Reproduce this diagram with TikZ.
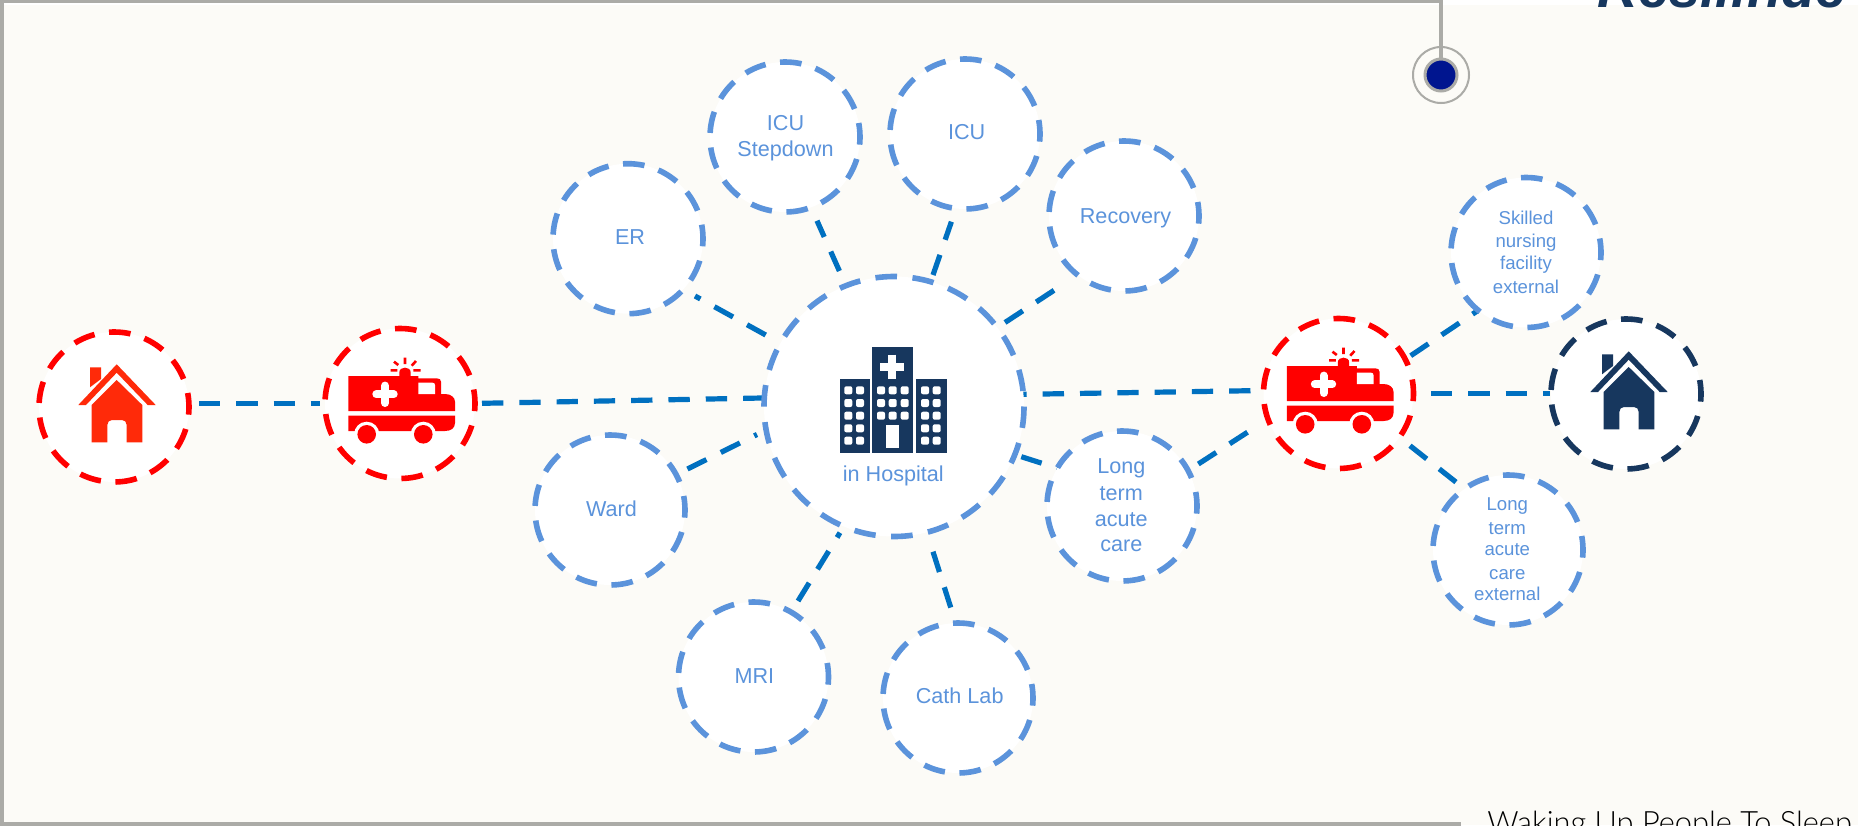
\documentclass[tikz,border=0pt]{standalone}
\usepackage{fontspec}
\setmainfont{Liberation Sans}
\newfontfamily\lightfont[UprightFont=* Light]{Lato}
\usetikzlibrary{calc,backgrounds}
\definecolor{paper}{HTML}{FCFBF7}
\definecolor{bluedash}{HTML}{5B93DB}
\definecolor{linkblue}{HTML}{0070C0}
\definecolor{navy}{HTML}{17375E}
\definecolor{framegray}{HTML}{ABABA7}
\definecolor{flame}{HTML}{FF2A09}
\definecolor{dotblue}{HTML}{00158F}
\tikzset{
  ring/.style={circle,minimum size=75pt,inner sep=0pt,outer sep=0pt,fill=white,line width=2.8pt,
    dash pattern=on 10.8pt off 7.32pt,dash phase=3.75pt},
  bluering/.style={ring,draw=bluedash},
  redring/.style={ring,draw=red},
  navyring/.style={ring,draw=navy},
  hubring/.style={bluering,minimum size=130pt,dash pattern=on 10.8pt off 7.77pt,dash phase=10.8pt},
  conn/.style={draw=linkblue,line width=2.6pt,dash pattern=on 10.65pt off 8pt},
  lab/.style={text=bluedash,inner sep=0pt,outer sep=0pt,anchor=base,align=center,
    font=\fontsize{10.8}{12}\selectfont},
  smalllab/.style={lab,font=\fontsize{9.3}{10}\selectfont},
  ambulance/.pic={
    \fill[red] (-51.7,-27.5) -- (18.3,-27.5) -- (18.3,-25.2) -- (36.7,-25.2)
      .. controls (39.5,-25.2) and (41,-24) .. (41,-21.8) -- (41,-9.5) -- (45,-9.5)
      .. controls (51,-9.5) and (55,-6) .. (55,-1.8) -- (55,7.5) -- (-51.7,7.5) -- cycle;
    \fill[red] (-51.7,12.2) -- (55,12.2) -- (55,19.5) .. controls (55,24.5) and (51,27.5) .. (45,27.5)
      -- (-51.7,27.5) -- cycle;
    \fill[red] (-0.7,-27.5) -- (-0.7,-31) .. controls (-0.7,-37.5) and (10.7,-37.5) .. (10.7,-31) -- (10.7,-27.5) -- cycle;
    \fill[white] (18.3,-20.8) -- (32.5,-20.8) .. controls (34.2,-20.8) and (35,-20) .. (35,-18.3) -- (35,-9.5) -- (18.3,-9.5) -- cycle;
    \draw[white,line width=4pt,line cap=round] (-23.7,-9.2) -- (-6.3,-9.2) (-15,-17.9) -- (-15,-0.5);
    \draw[red,line width=1.3pt] (5,-46) -- (5,-39.5) (11.7,-37.8) -- (16,-42.5) (-1.7,-38.5) -- (-6,-41.8)
      (13.3,-33.2) -- (20.7,-33.2) (-9.3,-33.2) -- (-2.7,-33.2);
    \fill[white] (-33.3,30.8) circle[radius=6.3pt] (23.3,30.8) circle[radius=6.3pt];
    \fill[red] (-33.3,30.8) circle[radius=4.65pt] (23.3,30.8) circle[radius=4.65pt];
  },
  house/.pic={
    \fill[pic actions] (2.7,-42.7) -- (41.7,-2) -- (33.7,-2) -- (2.7,-34.3) -- (-28,-2) -- (-35.7,-2) -- cycle;
    \fill[pic actions] (-24,-39.7) -- (-13,-39.7) -- (-13,-28) -- (-24,-19.7) -- cycle;
    \fill[pic actions] (2.7,-27) -- (28.3,-2) -- (28.3,35.3) -- (12.7,35.3) -- (12.7,18)
      .. controls (12.7,15) and (10.7,13) .. (8,13) -- (-2,13) .. controls (-4.7,13) and (-6.7,15) .. (-6.7,18)
      -- (-6.7,35.3) -- (-22.3,35.3) -- (-22.3,-2) -- cycle;
  },
  winrow/.style={white,rounded corners=1pt},
}
\newcommand{\hwin}[2]{\fill[winrow] ({#1-4},{#2-4}) rectangle ({#1+4},{#2+4});}
\begin{document}
\begin{tikzpicture}[x=0.5pt,y=-0.5pt]
\useasboundingbox (0,0) rectangle (1858,825);

% frame and marker
\node[text=navy,inner sep=0pt,anchor=base east,font=\fontsize{28}{32}\bfseries\itshape\selectfont] (title) at (1847,7) {Resilinde};
\node[circle,draw=framegray,line width=1pt,minimum size=28pt,inner sep=0pt] (markerring) at (1441,75) {};
\coordinate (framestart) at (1461,824.3);
\draw[framegray,line width=2.1pt] (framestart) -- (2.2,824.3) -- (2.2,1) -- (1441,1) -- (markerring.center);
\node[circle,draw=framegray,fill=dotblue,line width=1.5pt,minimum size=16pt,inner sep=0pt] (marker) at (1441,75) {};
\node[text=black,inner sep=0pt,anchor=base west,font=\lightfont\fontsize{15.4}{17}\selectfont] (tagline) at (1487,833.5) {Waking Up People To Sleep};

% nodes
\node[redring] (h1) at (114,407) {};
\node[redring] (a1) at (400,403.5) {};
\node[hubring] (hosp) at (894,406.5) {};
\node[redring] (a2) at (1338.5,393.5) {};
\node[navyring] (h2) at (1626,394) {};
\node[bluering] (er) at (628,238.7) {};
\node[bluering] (st) at (785,137) {};
\node[bluering] (icu) at (965,134) {};
\node[bluering] (rec) at (1124,216) {};
\node[bluering] (skl) at (1526,252.5) {};
\node[bluering] (lt) at (1122,506) {};
\node[bluering] (lte) at (1508,550) {};
\node[bluering] (ward) at (610,510) {};
\node[bluering] (mri) at (753.5,677) {};
\node[bluering] (cath) at (958,698) {};

% paper, then connectors under the rings
\begin{scope}[on background layer]
\fill[white] (0,0) rectangle (1858,825);
\fill[paper] (0,5) rectangle (1858,825);
\draw[conn] ($(h1)+(85,-3.7)$) -- ($(a1)+(-80,-0.2)$);
\draw[conn] ($(a1)+(82,-0.2)$) -- ($(hosp)+(-132,-8.5)$);
\draw[conn] ($(hosp)+(111.4,-11.9)$) -- ($(a2)+(-87.8,-2.8)$);
\draw[conn] ($(a2)+(92.5,-0.2)$) -- ($(h2)+(-76,-0.7)$);
\draw[conn] ($(hosp)+(-128.3,-71.5)$) -- ($(er)+(67,57.3)$);
\draw[conn] ($(hosp)+(-54.6,-135.5)$) -- ($(st)+(32,83.7)$);
\draw[conn] ($(hosp)+(39,-131.5)$) -- ($(icu)+(-13.6,87.7)$);
\draw[conn] ($(hosp)+(111,-84)$) -- ($(rec)+(-69.5,74)$);
\draw[conn] ($(ward)+(77.4,-41)$) -- ($(hosp)+(-137,28)$);
\draw[conn] ($(mri)+(44.5,-76)$) -- ($(hosp)+(-54,126.2)$);
\draw[conn] ($(hosp)+(39,145.2)$) -- ($(cath)+(-7.2,-90.3)$);
\draw[conn] ($(hosp)+(127.3,50.2)$) -- ($(lt)+(-62,-37)$);
\draw[conn] ($(lt)+(76.3,-42)$) -- ($(a2)+(-90.2,38.2)$);
\draw[conn] ($(a2)+(72.2,-37.8)$) -- ($(skl)+(-48.3,58.2)$);
\draw[conn] ($(a2)+(71.5,52.2)$) -- ($(lte)+(-51.3,-67.3)$);
\end{scope}

% icons
\pic[fill=flame] at (h1) {house};
\pic[fill=navy] at (h2) {house};
\pic at (a1) {ambulance};
\pic at (a2) {ambulance};

% hospital building
\fill[navy] (872.3,347.3) rectangle (913,453);
\fill[navy] (840,379) rectangle (869.7,453);
\fill[navy] (915.7,379) rectangle (946.7,453);
\draw[white,line width=4.15pt] (880.3,366.7) -- (904.3,366.7) (892.3,354.7) -- (892.3,378.7);
\foreach \y in {390.3,403,415.7,428.3,440.7}{\hwin{848.3}{\y}\hwin{860}{\y}\hwin{925}{\y}\hwin{936.7}{\y}}
\foreach \y in {390.3,403,415.7}{\hwin{881}{\y}\hwin{892.7}{\y}\hwin{904.7}{\y}}
\fill[white] (886,425.3) rectangle (899.3,448.3);

% labels
\node[lab] (hosplabel) at (893.3,481.7) {in Hospital};
\node[lab] (erlabel) at (630,244) {ER};
\node[lab] (stlabel) at (785.5,156.7) {ICU\\[1.35pt]Stepdown};
\node[lab] (iculabel) at (966.6,139.3) {ICU};
\node[lab] (reclabel) at (1125.5,223) {Recovery};
\node[lab] (wardlabel) at (611.5,516.5) {Ward};
\node[lab] (mrilabel) at (754.4,683) {MRI};
\node[lab] (cathlabel) at (959.7,703.3) {Cath Lab};
\node[lab] (ltlabel) at (1121.3,551) {Long\\[1.7pt]term\\[1pt]acute\\[0.15pt]care};
\node[smalllab] (skllabel) at (1526,293.3) {Skilled\\[1.85pt]nursing\\[0.8pt]facility\\[2pt]external};
\node[smalllab] (ltelabel) at (1507.3,600.7) {Long\\[1.65pt]term\\[0.85pt]acute\\[1.8pt]care\\[0.7pt]external};
\end{tikzpicture}
\end{document}
